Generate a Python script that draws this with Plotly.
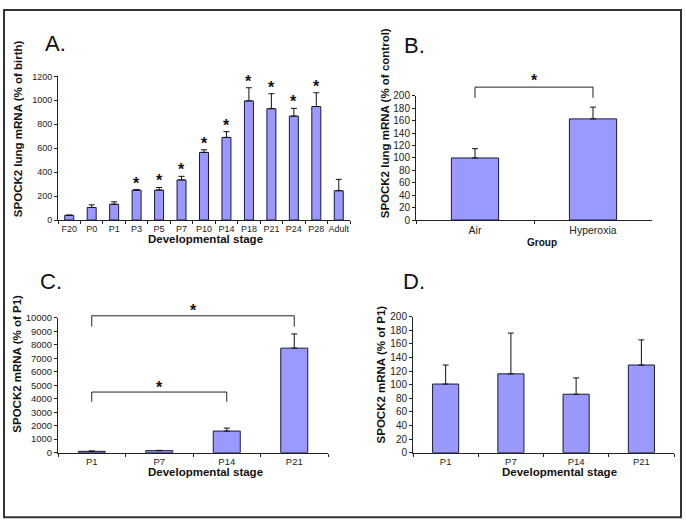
import plotly.graph_objects as go

W, H = 686, 530

# ---- data ----
stages_a = ["F20", "P0", "P1", "P3", "P5", "P7", "P10", "P14", "P18", "P21", "P24", "P28", "Adult"]
mrna_a = [40, 105, 132, 250, 250, 335, 565, 690, 995, 930, 868, 948, 245]
err_a = [0, 22, 20, 4, 22, 30, 22, 48, 110, 125, 65, 115, 95]
sig_a = [False, False, False, True, True, True, True, True, True, True, True, True, False]

groups_b = ["Air", "Hyperoxia"]
mrna_b = [100, 163]
err_b = [15, 19]

stages_cd = ["P1", "P7", "P14", "P21"]
mrna_c = [100, 150, 1600, 7750]
err_c = [20, 20, 220, 1050]
mrna_d = [101, 116, 86, 129]
err_d = [28, 60, 24, 37]

FONT = "Liberation Sans, Arial, sans-serif"
BAR = "#9999ff"
EDGE = "#1a1a40"

# plot areas in pixels: left, right, top, bottom
boxes = {
    "A": (58, 350, 72, 219),
    "B": (416, 652, 92, 219),
    "C": (58, 328, 319, 457),
    "D": (413, 674, 318, 457),
}


def px(x):
    return x / W


def py(y):
    return 1 - y / H


def bar_trace(cats, vals, errs, n):
    return go.Bar(
        x=cats, y=vals, width=0.4,
        marker=dict(color=BAR, line=dict(color=EDGE, width=1)),
        error_y=dict(type="data", array=errs, arrayminus=[0] * len(errs),
                     symmetric=False, color="#111", thickness=1, width=3),
        xaxis="x" + n, yaxis="y" + n, showlegend=False,
    )


fig = go.Figure()
fig.add_trace(bar_trace(stages_a, mrna_a, err_a, ""))
fig.add_trace(bar_trace(groups_b, mrna_b, err_b, "2"))
fig.add_trace(bar_trace(stages_cd, mrna_c, err_c, "3"))
fig.add_trace(bar_trace(stages_cd, mrna_d, err_d, "4"))

axis_specs = [("", "A", [0, 1200], 200, 9, 9),
              ("2", "B", [0, 200], 20, 10, 10.5),
              ("3", "C", [0, 10000], 1000, 9.5, 9.5),
              ("4", "D", [0, 200], 20, 10, 9.5)]
layout_axes = {}
for n, key, yr, dt, yfs, xfs in axis_specs:
    l, r, t, b = boxes[key]
    layout_axes["xaxis" + n] = dict(
        domain=[px(l), px(r)], anchor="y" + n, type="category", tickangle=0,
        showline=True, linecolor="#222", linewidth=1, showgrid=False,
        ticks="outside", tickson="boundaries", ticklen=3, tickcolor="#222",
        tickfont=dict(family=FONT, size=xfs, color="#222"),
    )
    layout_axes["yaxis" + n] = dict(
        domain=[py(b), py(t)], anchor="x" + n, range=yr, dtick=dt, tickformat="d",
        showline=True, linecolor="#222", linewidth=1, showgrid=False, zeroline=False,
        ticks="outside", ticklen=3, tickcolor="#222",
        tickfont=dict(family=FONT, size=yfs, color="#222"),
    )
fig.update_layout(**layout_axes)


def note(text, x, y, size, angle=0):
    return dict(text=text, x=px(x), y=py(y), xref="paper", yref="paper",
                xanchor="center", yanchor="middle", textangle=angle,
                showarrow=False, font=dict(family=FONT, size=size, color="#111"))


ann = []
# panel letters
for key, x, y in [("A.", 56, 38), ("B.", 414, 40), ("C.", 51, 282), ("D.", 414, 282)]:
    ann.append(note(key, x, y, 22))

# axis titles
for text, x, y, size in [("Developmental stage", 206, 238, 11.5), ("Group", 542, 242, 10),
                         ("Developmental stage", 206, 477, 11.5), ("Developmental stage", 559, 477, 11.5)]:
    ann.append(note("<b>%s</b>" % text, x, y, size))
for text, x, y in [("SPOCK2 lung mRNA (% of birth)", 18, 126),
                   ("SPOCK2 lung mRNA (% of control)", 385, 120),
                   ("SPOCK2 mRNA (% of P1)", 17, 366),
                   ("SPOCK2 mRNA (% of P1)", 381, 377)]:
    ann.append(note("<b>%s</b>" % text, x, y, 11.5, angle=-90))

# significance stars in A
for cat, v, e, s in zip(stages_a, mrna_a, err_a, sig_a):
    if s:
        ann.append(dict(text="<b>*</b>", x=cat, y=v + e, xref="x", yref="y", yanchor="bottom",
                        yshift=-4, showarrow=False, font=dict(family=FONT, size=16, color="#111")))


def cat_px(key, i, n):
    l, r, t, b = boxes[key]
    return l + (i + 0.5) * (r - l) / n


shapes = []
# bracket: panel, i, j, n categories, bracket top px, leg length px, star px
brackets = [("B", 0, 1, len(groups_b), 83, 11, 76),
            ("C", 0, 3, len(stages_cd), 317, 11, 312),
            ("C", 0, 2, len(stages_cd), 395, 10, 390)]
for key, i, j, n, yt, leg, ys in brackets:
    x0, x1 = cat_px(key, i, n), cat_px(key, j, n)
    path = "M %f,%f L %f,%f L %f,%f L %f,%f" % (
        px(x0), py(yt + leg), px(x0), py(yt), px(x1), py(yt), px(x1), py(yt + leg))
    shapes.append(dict(type="path", path=path, xref="paper", yref="paper",
                       line=dict(color="#222", width=1)))
    ann.append(note("<b>*</b>", (x0 + x1) / 2, ys, 16))

# outer frame
shapes.append(dict(type="rect", xref="paper", yref="paper", x0=px(4), x1=px(681),
                   y0=py(523), y1=py(4), line=dict(color="#333", width=2)))

fig.update_layout(
    width=W, height=H, margin=dict(l=0, r=0, t=0, b=0),
    paper_bgcolor="white", plot_bgcolor="white",
    font=dict(family=FONT, color="#111"),
    annotations=ann, shapes=shapes, bargap=0.6,
)

# page body has an 8px default margin; drop it so the figure sits at 0,0
fig.write_html("out.html", config={"displayModeBar": False},
               post_script="document.body.style.margin='0';")
